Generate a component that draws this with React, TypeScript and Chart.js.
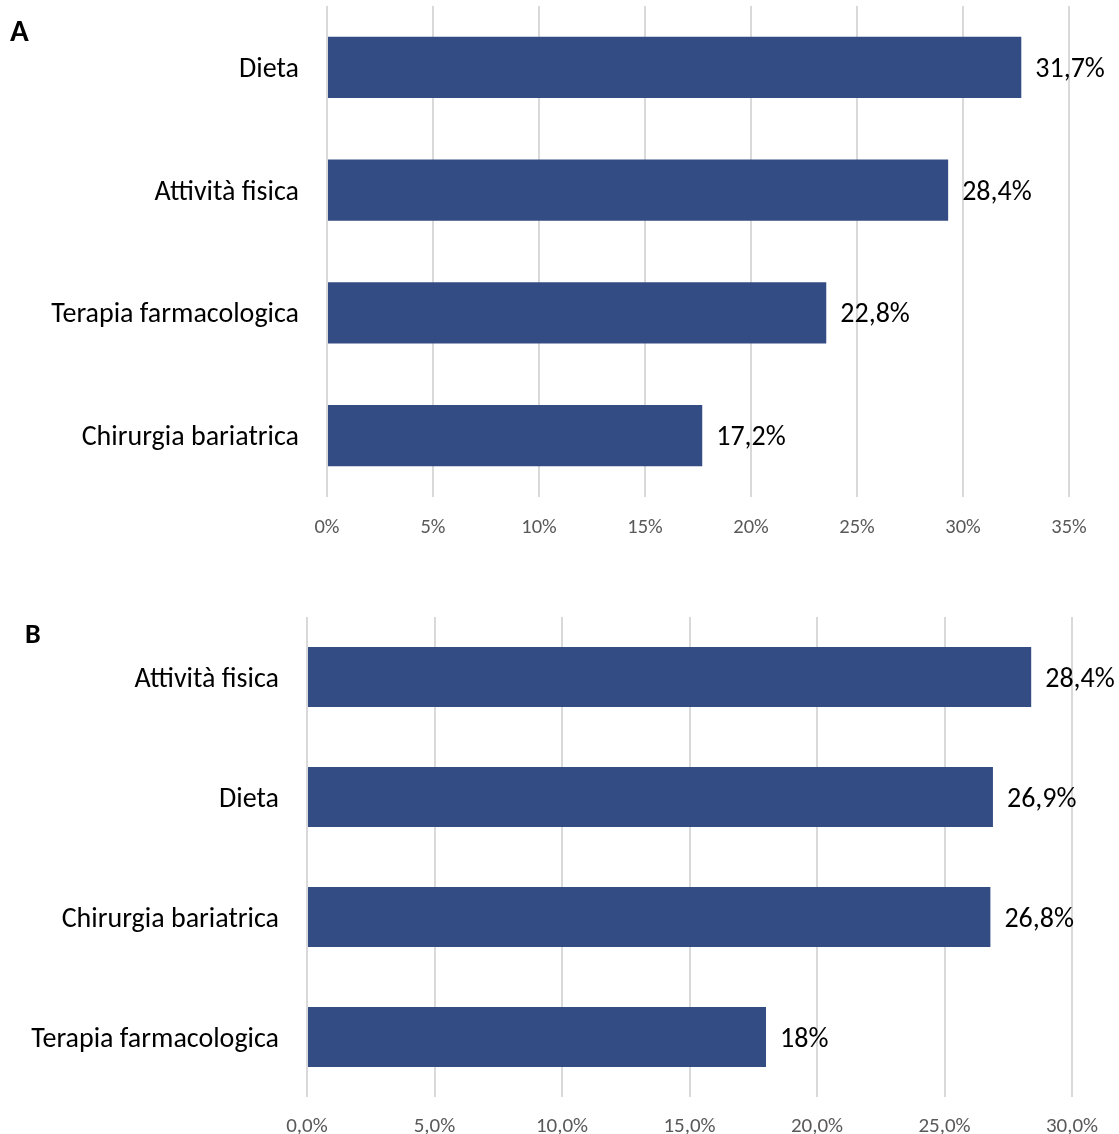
import React, { useEffect, useRef } from "react";
import { Chart, registerables } from "chart.js";

Chart.register(...registerables);

const FONT = "Carlito, Lato, sans-serif";
const BAR_COLOR = "#344C84";

// Panel A
const categoriesA = ["Dieta", "Attività fisica", "Terapia farmacologica", "Chirurgia bariatrica"];
const valuesA = [32.75, 29.3, 23.55, 17.7];
const dataLabelsA = ["31,7%", "28,4%", "22,8%", "17,2%"];
const tickValuesA = [0, 5, 10, 15, 20, 25, 30, 35];
const tickLabelsA = ["0%", "5%", "10%", "15%", "20%", "25%", "30%", "35%"];

// Panel B
const categoriesB = ["Attività fisica", "Dieta", "Chirurgia bariatrica", "Terapia farmacologica"];
const valuesB = [28.4, 26.9, 26.8, 18.0];
const dataLabelsB = ["28,4%", "26,9%", "26,8%", "18%"];
const tickValuesB = [0, 5, 10, 15, 20, 25, 30];
const tickLabelsB = ["0,0%", "5,0%", "10,0%", "15,0%", "20,0%", "25,0%", "30,0%"];

type PanelProps = {
  categories: string[];
  values: number[];
  dataLabels: string[];
  tickValues: number[];
  tickLabels: string[];
  max: number;
  top: number;
  height: number;
  padTop: number;
  padRight: number;
  yWidth: number;
  xHeight: number;
  tickSize: number;
  tickPad: number;
};

const CAT_SIZE = 28;

function BarPanel(p: PanelProps) {
  const ref = useRef<HTMLCanvasElement>(null);
  useEffect(() => {
    if (!ref.current) return;
    const labelPlugin = {
      id: "barValueLabels",
      afterDatasetsDraw(chart: any) {
        const ctx = chart.ctx;
        const meta = chart.getDatasetMeta(0);
        ctx.save();
        ctx.font = `${CAT_SIZE}px ${FONT}`;
        ctx.fillStyle = "#000000";
        ctx.textAlign = "left";
        ctx.textBaseline = "middle";
        meta.data.forEach((el: any, i: number) => {
          ctx.fillText(p.dataLabels[i], el.x + 14, el.y + 2.5);
        });
        ctx.restore();
      },
    };
    const chart = new Chart(ref.current, {
      type: "bar",
      data: {
        labels: p.categories,
        datasets: [
          {
            data: p.values,
            backgroundColor: BAR_COLOR,
            borderWidth: 0,
            barPercentage: 1,
            categoryPercentage: 0.5,
          },
        ],
      },
      options: {
        indexAxis: "y",
        animation: false,
        responsive: false,
        maintainAspectRatio: false,
        devicePixelRatio: 1,
        layout: { padding: { top: p.padTop, right: p.padRight, bottom: 0, left: 0 } },
        plugins: { legend: { display: false }, tooltip: { enabled: false } },
        scales: {
          x: {
            type: "linear",
            position: "bottom",
            min: 0,
            max: p.max,
            afterBuildTicks: (s: any) => {
              s.ticks = p.tickValues.map((v) => ({ value: v }));
            },
            afterFit: (s: any) => {
              s.height = p.xHeight;
              s.paddingLeft = 0;
              s.paddingRight = 0;
            },
            ticks: {
              callback: (_v: any, i: number) => p.tickLabels[i],
              color: "#595959",
              font: { family: FONT, size: p.tickSize },
              padding: p.tickPad,
              maxRotation: 0,
              autoSkip: false,
            },
            grid: { color: "#d9d9d9", lineWidth: 2, drawTicks: false },
            border: { display: false },
          },
          y: {
            type: "category",
            afterFit: (s: any) => {
              s.width = p.yWidth;
              s.paddingTop = 0;
              s.paddingBottom = 0;
            },
            ticks: {
              color: "#000000",
              font: { family: FONT, size: CAT_SIZE },
              padding: 28,
              labelOffset: 2.5,
              autoSkip: false,
            },
            grid: { display: false, drawTicks: false },
            border: { display: false },
          },
        },
      } as any,
      plugins: [labelPlugin],
    });
    return () => chart.destroy();
  }, []);
  return (
    <canvas
      ref={ref}
      width={1119}
      height={p.height}
      style={{ position: "absolute", left: 0, top: p.top, width: 1119, height: p.height }}
    />
  );
}

export default function App() {
  useEffect(() => {
    document.body.style.margin = "0";
  }, []);
  return (
    <div style={{ position: "absolute", left: 0, top: 0, width: 1119, height: 1134, background: "#ffffff", overflow: "hidden" }}>
      <BarPanel
        categories={categoriesA}
        values={valuesA}
        dataLabels={dataLabelsA}
        tickValues={tickValuesA}
        tickLabels={tickLabelsA}
        max={35}
        top={0}
        height={545}
        padTop={6}
        padRight={50}
        yWidth={327}
        xHeight={48}
        tickSize={20.5}
        tickPad={19}
      />
      <BarPanel
        categories={categoriesB}
        values={valuesB}
        dataLabels={dataLabelsB}
        tickValues={tickValuesB}
        tickLabels={tickLabelsB}
        max={30}
        top={600}
        height={534}
        padTop={17}
        padRight={47}
        yWidth={307}
        xHeight={37}
        tickSize={21}
        tickPad={17}
      />
      <div style={{ position: "absolute", left: 10, top: 15, fontFamily: FONT, fontWeight: 700, fontSize: 31, lineHeight: "31px", color: "#000" }}>A</div>
      <div style={{ position: "absolute", left: 25, top: 620, fontFamily: FONT, fontWeight: 700, fontSize: 28, lineHeight: "28px", color: "#000" }}>B</div>
    </div>
  );
}
